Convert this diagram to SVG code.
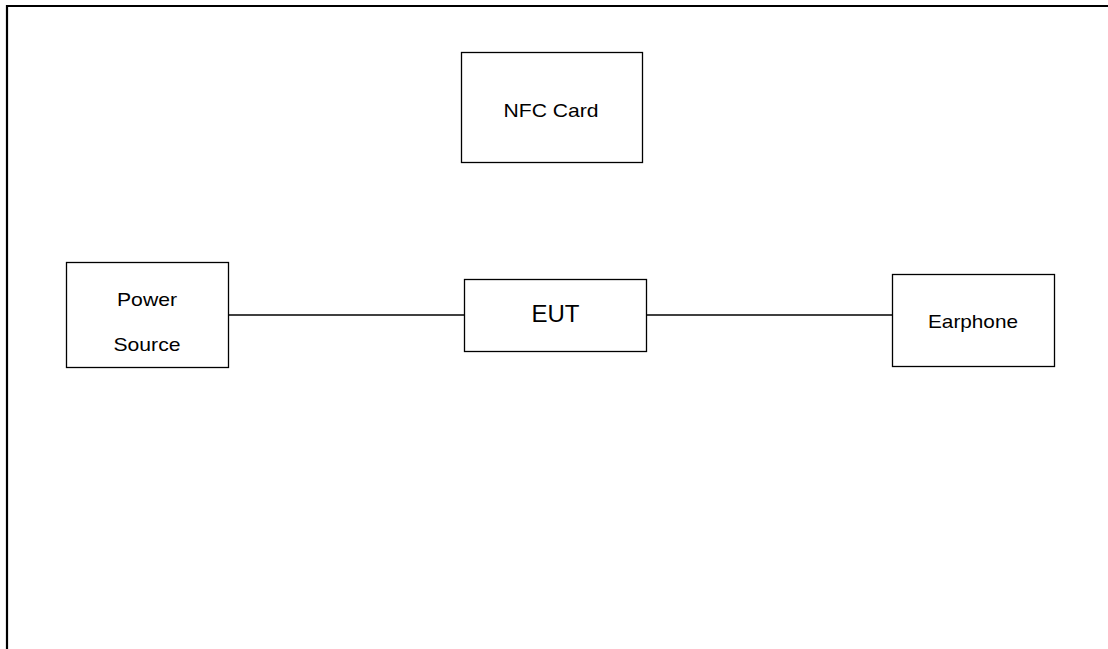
<svg xmlns="http://www.w3.org/2000/svg" width="1108" height="649" viewBox="0 0 1108 649">
<style>
.box{fill:#fff;stroke:#000;stroke-width:1.3}
.lbl{font-family:"Liberation Sans",Arial,sans-serif;font-size:19px;fill:#000;text-anchor:middle}
.big{font-size:24px}
.wire{stroke:#000;stroke-width:1.3;fill:none}
</style>
<rect x="0" y="0" width="1108" height="649" fill="#fff"/>
<path d="M7,649 V6 H1108" fill="none" stroke="#000" stroke-width="2.2"/>
<g id="connectors">
<line class="wire" x1="228.5" y1="315" x2="464.5" y2="315"/>
<line class="wire" x1="646.5" y1="315" x2="892.5" y2="315"/>
</g>
<g id="nfc">
<rect class="box" x="461.5" y="52.5" width="181" height="110"/>
<text class="lbl" x="551" y="117" textLength="95" lengthAdjust="spacingAndGlyphs">NFC Card</text>
</g>
<g id="power">
<rect class="box" x="66.5" y="262.5" width="162" height="105"/>
<text class="lbl" x="147" y="306" textLength="60" lengthAdjust="spacingAndGlyphs">Power</text>
<text class="lbl" x="147" y="351" textLength="67" lengthAdjust="spacingAndGlyphs">Source</text>
</g>
<g id="eut">
<rect class="box" x="464.5" y="279.5" width="182" height="72"/>
<text class="lbl big" x="555.5" y="322">EUT</text>
</g>
<g id="earphone">
<rect class="box" x="892.5" y="274.5" width="162" height="92"/>
<text class="lbl" x="973" y="328" textLength="90" lengthAdjust="spacingAndGlyphs">Earphone</text>
</g>
</svg>
